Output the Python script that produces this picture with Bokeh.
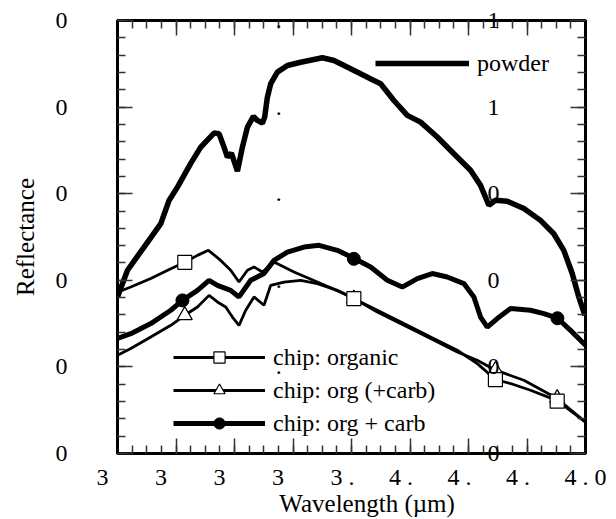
from bokeh.plotting import figure
from bokeh.models import Range1d, FixedTicker, LinearAxis, Label, Legend, LegendItem
from bokeh.embed import file_html
from bokeh.resources import INLINE

# ---- data ----
powder_wl = [3.2, 3.2171, 3.2454, 3.2740, 3.2881, 3.3025, 3.3252, 3.3423, 3.3650, 3.3736,
             3.3821, 3.3879, 3.3947, 3.4050, 3.4135, 3.4221, 3.4323, 3.4392, 3.4477, 3.4516,
             3.4562, 3.4619, 3.4733, 3.4904, 3.5131, 3.5358, 3.5502, 3.5700, 3.5985, 3.6383,
             3.6498, 3.6725, 3.6954, 3.7181, 3.7466, 3.7750, 3.8035, 3.8206, 3.8348, 3.8462,
             3.8662, 3.8946, 3.9231, 3.9458, 3.9629, 3.9773, 3.9885, 3.9990]
powder_r = [0.0904, 0.1058, 0.1192, 0.1327, 0.1461, 0.1538, 0.1675, 0.1769, 0.1850, 0.1846,
            0.1769, 0.1711, 0.1734, 0.1630, 0.1769, 0.1884, 0.1946, 0.1923, 0.1907, 0.1942,
            0.2057, 0.2135, 0.2202, 0.2240, 0.2259, 0.2275, 0.2285, 0.2269, 0.2221, 0.2154,
            0.2135, 0.2038, 0.1952, 0.1913, 0.1827, 0.1731, 0.1635, 0.1548, 0.1433, 0.1462,
            0.1457, 0.1414, 0.1346, 0.1269, 0.1173, 0.1039, 0.0904, 0.0798]

orgcarb_wl = [3.2, 3.2227, 3.2569, 3.2911, 3.3110, 3.3367, 3.3565, 3.3708, 3.3935, 3.4077,
              3.4277, 3.4504, 3.4675, 3.4904, 3.5188, 3.5444, 3.5758, 3.6042, 3.6327, 3.6612,
              3.6868, 3.7125, 3.7381, 3.7637, 3.7921, 3.8092, 3.8206, 3.8321, 3.8491, 3.8719,
              3.9060, 3.9288, 3.9521, 3.9744, 4.0]
orgcarb_r = [0.0664, 0.0692, 0.0750, 0.0827, 0.0884, 0.0942, 0.1000, 0.0971, 0.0942, 0.0904,
             0.1000, 0.1039, 0.1115, 0.1163, 0.1192, 0.1202, 0.1173, 0.1127, 0.1077, 0.1000,
             0.0961, 0.1010, 0.1039, 0.1019, 0.0981, 0.0904, 0.0788, 0.0730, 0.0779, 0.0837,
             0.0827, 0.0808, 0.0781, 0.0711, 0.0625]

organic_wl = [3.2, 3.2227, 3.2569, 3.2911, 3.3150, 3.3367, 3.3554, 3.3765, 3.3935, 3.4077,
              3.4221, 3.4333, 3.4477, 3.4675, 3.5017, 3.5416, 3.5871, 3.6042, 3.6441, 3.6896,
              3.7352, 3.7808, 3.8150, 3.8462, 3.8719, 3.9060, 3.9516, 4.0]
organic_r = [0.0931, 0.0961, 0.1010, 0.1067, 0.1104, 0.1144, 0.1173, 0.1115, 0.1058, 0.0990,
             0.1058, 0.1077, 0.1048, 0.1105, 0.1048, 0.0990, 0.0923, 0.0894, 0.0827, 0.0750,
             0.0673, 0.0596, 0.0519, 0.0427, 0.0404, 0.0365, 0.0305, 0.0181]

orgpc_wl = [3.2, 3.2227, 3.2569, 3.2911, 3.3150, 3.3367, 3.3565, 3.3708, 3.3850, 3.3964,
            3.4077, 3.4192, 3.4333, 3.4504, 3.4619, 3.4846, 3.5131, 3.5416, 3.5758, 3.6042,
            3.6441, 3.6896, 3.7352, 3.7808, 3.8150, 3.8462, 3.8946, 3.9516, 4.0]
orgpc_r = [0.0567, 0.0606, 0.0673, 0.0740, 0.0798, 0.0846, 0.0913, 0.0875, 0.0846, 0.0788,
           0.0740, 0.0827, 0.0904, 0.0856, 0.0971, 0.0990, 0.1000, 0.0981, 0.0942, 0.0894,
           0.0817, 0.0740, 0.0664, 0.0586, 0.0538, 0.0481, 0.0423, 0.0317, 0.0181]

# marker positions
organic_mk_wl = [3.315, 3.604, 3.846, 3.9516]
organic_mk_r = [0.1104, 0.0894, 0.0427, 0.0302]
orgpc_mk_wl = [3.315, 3.604, 3.846, 3.9516]
orgpc_mk_r = [0.0798, 0.0894, 0.0481, 0.0319]
orgcarb_mk_wl = [3.311, 3.604, 3.952]
orgcarb_mk_r = [0.0884, 0.1124, 0.0781]

# ticks and their (truncated) labels as they appear in the picture
x_ticks = [3.2, 3.3, 3.4, 3.5, 3.6, 3.7, 3.8, 3.9, 4.0]
x_tick_labels = ["3", "3", "3", "3", "3 .", "4 .", "4 .", "4 .", "4 . 0"]
x_minor = [round(3.2 + 0.025 * i, 4) for i in range(33)]
y_ticks = [0.0, 0.05, 0.10, 0.15, 0.20, 0.25]
y_left_labels = ["0", "0", "0", "0", "0", "0"]
y_right_labels = ["0", "0", "0", "0", "1", "1"]
y_minor = [round(0.01 * i, 3) for i in range(26)]
x_title = "Wavelength (µm)"
y_title = "Reflectance"

FONT = "Liberation Serif"
NB = "\u00a0"
# trailing padding so that the visible characters sit left of each tick, as in the picture
x_pad = {"3": NB * 5, "3 .": NB * 3, "4 .": NB * 3, "4 . 0": ""}

p = figure(width=616, height=519, x_range=Range1d(3.2, 4.0), y_range=Range1d(0, 0.25),
           output_backend="svg", toolbar_location=None,
           min_border_left=117, min_border_right=31, min_border_top=20, min_border_bottom=66)
p.grid.visible = False
p.outline_line_color = "black"
p.outline_line_width = 3
p.background_fill_color = "white"
p.border_fill_color = "white"


def style_axis(ax, ticks, minor):
    ax.ticker = FixedTicker(ticks=ticks, minor_ticks=minor)
    ax.axis_line_color = "black"
    ax.axis_line_width = 3
    ax.major_tick_in = 15
    ax.major_tick_out = 0
    ax.minor_tick_in = 8
    ax.minor_tick_out = 0
    ax.major_tick_line_color = "#333333"
    ax.major_tick_line_width = 1.5
    ax.minor_tick_line_color = "#333333"
    ax.minor_tick_line_width = 1.5


def hide_labels(ax, ticks):
    ax.major_label_overrides = {t: "" for t in ticks}
    ax.major_label_text_font_size = "0px"
    ax.major_label_text_color = None
    ax.major_label_standoff = 0


# bottom
bx = p.xaxis[0]
style_axis(bx, x_ticks, x_minor)
bx.major_label_overrides = {t: s + x_pad[s] for t, s in zip(x_ticks, x_tick_labels)}
bx.major_label_text_font = FONT
bx.major_label_text_font_size = "24px"
bx.major_label_text_color = "black"
bx.major_label_standoff = 10
bx.axis_label = NB * 5 + x_title
bx.axis_label_text_font = FONT
bx.axis_label_text_font_style = "normal"
bx.axis_label_text_font_size = "25px"
bx.axis_label_text_color = "black"
bx.axis_label_standoff = -3
# left
ly = p.yaxis[0]
style_axis(ly, y_ticks, y_minor)
ly.major_label_overrides = {t: s for t, s in zip(y_ticks, y_left_labels)}
ly.major_label_text_font = FONT
ly.major_label_text_font_size = "24px"
ly.major_label_text_color = "black"
ly.major_label_standoff = 50
ly.axis_label = y_title
ly.axis_label_text_font = FONT
ly.axis_label_text_font_style = "normal"
ly.axis_label_text_font_size = "25px"
ly.axis_label_text_color = "black"
ly.axis_label_standoff = 14
# top
top = LinearAxis()
style_axis(top, x_ticks, x_minor)
hide_labels(top, x_ticks)
p.add_layout(top, "above")
# right: its labels are drawn inside the frame, as in the picture
right = LinearAxis()
style_axis(right, y_ticks, y_minor)
right.major_label_overrides = {t: s for t, s in zip(y_ticks, y_right_labels)}
right.major_label_text_font = FONT
right.major_label_text_font_size = "24px"
right.major_label_text_color = "black"
right.major_label_standoff = -98
p.add_layout(right, "right")

# curves
l_pow = p.line(powder_wl, powder_r, line_color="black", line_width=5.5)
l_oc = p.line(orgcarb_wl, orgcarb_r, line_color="black", line_width=5)
s_oc = p.scatter(orgcarb_mk_wl, orgcarb_mk_r, marker="circle", size=13,
                 fill_color="black", line_color="black")
l_pc = p.line(orgpc_wl, orgpc_r, line_color="black", line_width=2.8)
s_pc = p.scatter(orgpc_mk_wl, orgpc_mk_r, marker="triangle", size=15,
                 fill_color="white", line_color="black", line_width=1.2)
l_org = p.line(organic_wl, organic_r, line_color="black", line_width=2.8)
s_org = p.scatter(organic_mk_wl, organic_mk_r, marker="square", size=14,
                  fill_color="white", line_color="black", line_width=1.2)

# legends
chip_legend = Legend(items=[
    LegendItem(label="chip: organic", renderers=[l_org, s_org]),
    LegendItem(label="chip: org (+carb)", renderers=[l_pc, s_pc]),
    LegendItem(label="chip: org + carb", renderers=[l_oc, s_oc]),
], location=(56, 16), glyph_width=92, glyph_height=28, label_height=28, spacing=5,
    padding=0, margin=0, label_standoff=8, label_text_font=FONT,
    label_text_font_size="24px", label_text_color="black",
    border_line_color=None, background_fill_alpha=0)
p.add_layout(chip_legend)
pow_legend = Legend(items=[LegendItem(label="powder", renderers=[l_pow])],
                    location=(258, 376), glyph_width=94, glyph_height=28, label_height=28,
                    padding=0, margin=0, label_standoff=8, label_text_font=FONT,
                    label_text_font_size="24px", label_text_color="black",
                    border_line_color=None, background_fill_alpha=0)
p.add_layout(pow_legend)

# stray decimal points of a hidden middle scale (inside the frame)
for t in y_ticks[1:]:
    p.add_layout(Label(x=3.4757, y=t, text=".", text_align="center", text_baseline="middle",
                       text_font=FONT, text_font_size="24px", text_color="black"))

open("out.html", "w").write(file_html(p, INLINE))
